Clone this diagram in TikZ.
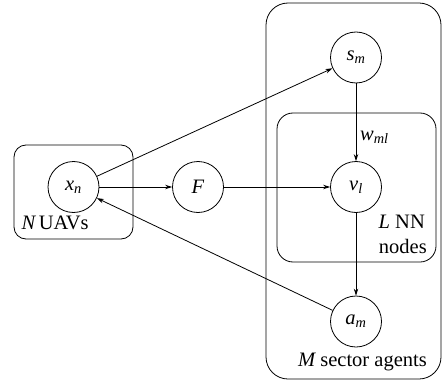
\documentclass[tikz,border=0pt]{standalone}
\usepackage{fontspec}
\setmainfont{Liberation Serif}
\usetikzlibrary{arrows.meta}
\newcommand\vv[2]{$\mathit{#1}_{\mathit{#2}}$}
\begin{document}
\begin{tikzpicture}[x=1pt,y=-1pt,
  font=\fontsize{20.5}{24}\selectfont,
  var/.style={draw,circle,line width=0.8pt,minimum size=51pt,inner sep=0pt},
  plate/.style={draw,line width=0.8pt,inner sep=0pt},
  arr/.style={line width=0.8pt,-{Stealth[length=7pt,width=4.5pt]}}]
\useasboundingbox (0,0) rectangle (443,382);
\node[plate,rounded corners=12pt,minimum width=119pt,minimum height=94pt] (pN) at (73.5,192) {};
\node[plate,rounded corners=22pt,minimum width=175pt,minimum height=376pt] (pM) at (353.5,191) {};
\node[plate,rounded corners=16pt,minimum width=159pt,minimum height=149pt] (pL) at (356.5,187.5) {};
\node[var] (x) at (73.5,187) {\vv{x}{n}};
\node[var] (F) at (198,187) {$\mathit{F}$};
\node[var] (s) at (356,57.5) {\vv{s}{m}};
\node[var] (v) at (356,187) {\vv{v}{l}};
\node[var] (a) at (356,321.5) {\vv{a}{m}};
\node[anchor=base west,inner sep=0pt] (tN) at (21.5,229) {$\mathit{N}$\,UAVs};
\node[anchor=base east,inner sep=0pt] (tL1) at (425,228) {$\mathit{L}$ NN};
\node[anchor=base east,inner sep=0pt] (tL2) at (427,253) {nodes};
\node[anchor=base east,inner sep=0pt] (tM) at (427,366.5) {$\mathit{M}$ sector agents};
\draw[arr] (x) -- (s);
\draw[arr] (x) -- (F);
\draw[arr] (F) -- (v);
\draw[arr] (s) -- (v);
\node[anchor=base west,inner sep=0pt] (tw) at (360,140) {\vv{w}{ml}};
\draw[arr] (v) -- (a);
\draw[arr] (a) -- (x);
\end{tikzpicture}
\end{document}
